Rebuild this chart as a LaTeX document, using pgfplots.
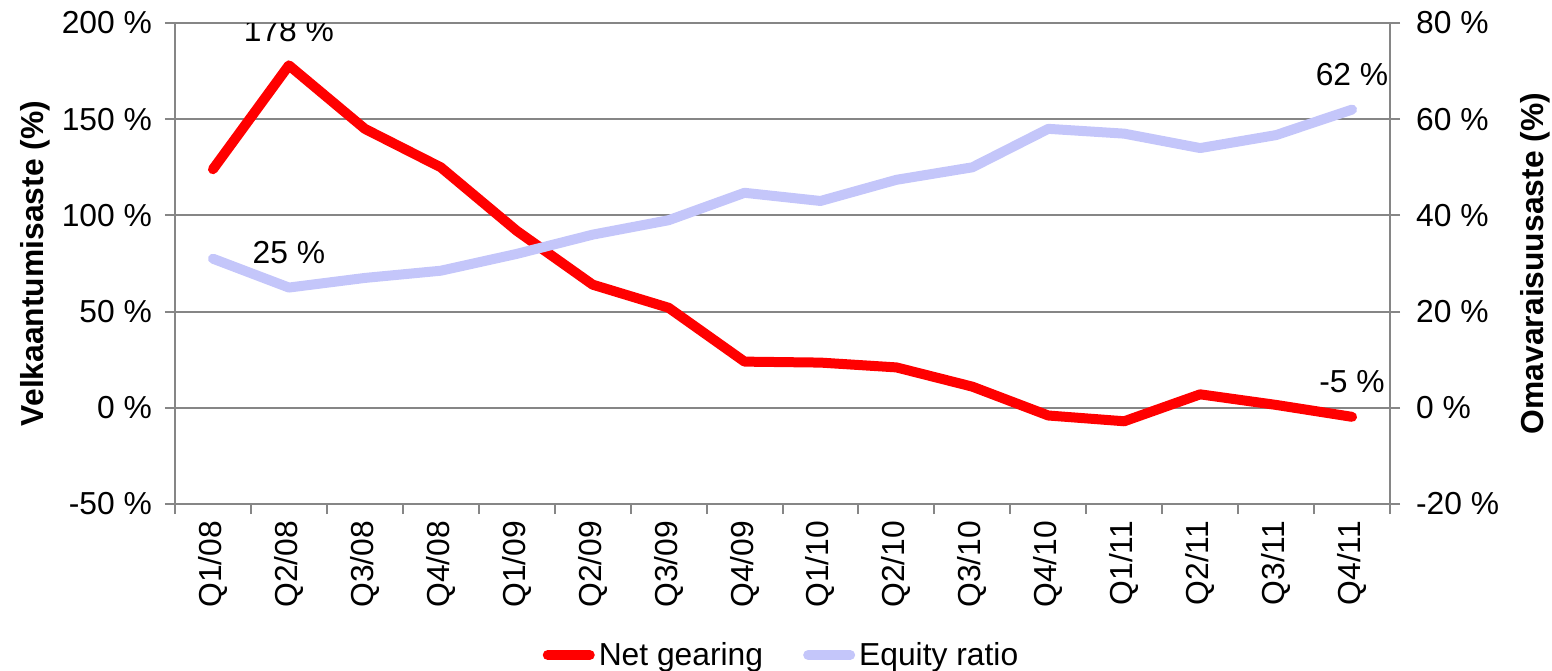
\documentclass[border=0pt]{standalone}
\usepackage{fontspec}
\setmainfont{Liberation Sans}
\usepackage{pgfplots}
\pgfplotsset{compat=1.18}
\definecolor{eqcol}{RGB}{196,198,250}
\definecolor{gridgray}{RGB}{134,134,134}
\begin{document}
\begin{tikzpicture}[font=\fontsize{15.9}{19}\selectfont]
\pgfplotsset{
  common/.style={
    scale only axis, width=607.5pt, height=240.5pt,
    xmin=-0.5, xmax=15.5,
    /pgf/number format/assume math mode=true,
    axis line style={gridgray, line width=1pt},
    tick style={gridgray, line width=1pt},
    tick align=outside,
    major tick length=5pt, minor tick length=5pt,
  }
}
\begin{axis}[common, name=ax,
  ymin=-50, ymax=200, ytick={-50,0,...,200},
  axis x line*=bottom, axis y line*=left,
  ymajorgrids, grid style={gridgray, line width=1pt},
  yticklabel={\pgfmathprintnumber{\tick}~\%},
  yticklabel style={xshift=-3pt},
  xtick={0,...,15},
  xticklabels={Q1/08,Q2/08,Q3/08,Q4/08,Q1/09,Q2/09,Q3/09,Q4/09,Q1/10,Q2/10,Q3/10,Q4/10,Q1/11,Q2/11,Q3/11,Q4/11},
  xticklabel style={rotate=90, anchor=east},
  major x tick style={draw=none},
  minor xtick={-0.5,0.5,...,15.5},
  ylabel={\bfseries Velkaantumisaste (\%)},
  ylabel style={at={(rel axis cs:-0.1152,0.5)}, anchor=center, rotate=0},
]
\addplot[red, line width=5pt, line join=round, line cap=round] coordinates {
(0,124) (1,178) (2,145) (3,125) (4,92) (5,64) (6,52) (7,24)
(8,23.5) (9,21) (10,11) (11,-4) (12,-7) (13,7) (14,1.5) (15,-4.7)};
\node at (axis cs:1,178) [yshift=17.5pt] {178~\%};
\node at (axis cs:15,-4.7) [yshift=17.5pt] {-5~\%};
\end{axis}
\begin{axis}[common,
  ymin=-20, ymax=80, ytick={-20,0,...,80},
  axis x line=none, axis y line*=right,
  yticklabel={\pgfmathprintnumber{\tick}~\%},
  yticklabel style={xshift=4.5pt},
  ylabel={\bfseries Omavaraisuusaste (\%)},
  ylabel style={at={(rel axis cs:1.1193,0.5)}, anchor=center, rotate=0},
  legend style={at={(0.5,-0.314)}, anchor=center, draw=none, fill=none,
    legend columns=2, /tikz/every even column/.append style={column sep=18pt},
    legend cell align=left},
  legend image code/.code={\draw[#1, line width=5pt, line cap=round] (0pt,0pt) -- (21pt,0pt);},
]
\addlegendimage{red, line width=5pt}
\addlegendentry{Net gearing}
\addplot[eqcol, line width=5pt, line join=round, line cap=round] coordinates {
(0,31) (1,25) (2,27) (3,28.5) (4,32) (5,36) (6,39) (7,44.7)
(8,43) (9,47.4) (10,50) (11,58) (12,57) (13,54) (14,56.7) (15,62)};
\addlegendentry{Equity ratio}
\node at (axis cs:1,25) [yshift=17.5pt] {25~\%};
\node at (axis cs:15,62) [yshift=17.5pt] {62~\%};
\end{axis}
\pgfresetboundingbox
\path[use as bounding box] ([shift={(-87.5pt,-83pt)}]ax.south west) rectangle ++(776pt,335pt);
\end{tikzpicture}
\end{document}
